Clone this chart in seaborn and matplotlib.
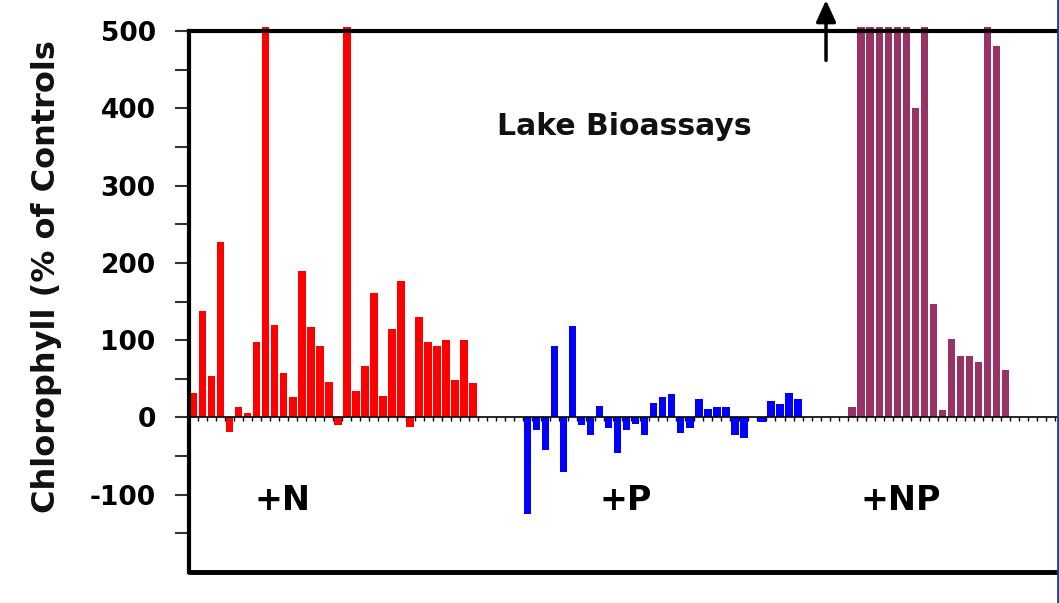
import numpy as np
import pandas as pd
import matplotlib
matplotlib.use("Agg")
import matplotlib.pyplot as plt
import seaborn as sns
from matplotlib.lines import Line2D
from matplotlib.ticker import FixedLocator

# ---------------- data ----------------
groups = ["+N", "+P", "+NP"]
n_values = [32, 138, 53, 227, -19, 14, 6, 97, 505, 119, 58, 27, 189, 117, 92, 46,
            -10, 505, 34, 66, 161, 28, 114, 176, -13, 130, 97, 93, 100, 48, 100, 44]
p_values = [-125, -16, -42, 92, -70, 118, -10, -23, 15, -14, -46, -16, -9, -23, 19, 26,
            30, -20, -14, 24, 11, 13, 13, -23, -26, None, -6, 21, 17, 32, 24]
np_values = [13, 505, 505, 505, 505, 505, 505, 401, 505, 147, 9, 101, 80, 80, 72, 505, 481, 61]
y_ticks = [-100, 0, 100, 200, 300, 400, 500]
title_text = "Lake Bioassays"
y_label = "Chlorophyll (% of Controls"

# ---------------- layout / style ----------------
group_start = {"+N": 0, "+P": 37, "+NP": 73}
colors = {"+N": "#FF0000", "+P": "#0000FF", "+NP": "#993366"}
label_x = {"+N": 9.9, "+P": 47.9, "+NP": 78.4}

rows = []
for g, vals in zip(groups, [n_values, p_values, np_values]):
    for k, v in enumerate(vals):
        if v is None:
            continue
        rows.append({"sample": group_start[g] + k, "value": v, "group": g})
df = pd.DataFrame(rows)

sns.set_theme(style="white")
plt.rcParams["font.family"] = ["DejaVu Sans"]
plt.rcParams["axes.unicode_minus"] = False

W, H = 1059, 603
fig = plt.figure(figsize=(W / 100, H / 100), dpi=100)
ax = fig.add_axes([189 / W, 1 - 572 / H, (1057 - 189) / W, (572 - 31) / H])

sns.barplot(data=df, x="sample", y="value", hue="group", palette=colors,
            native_scale=True, dodge=False, width=0.83, errorbar=None,
            legend=False, ax=ax, saturation=1, linewidth=0)
for p in ax.patches:
    p.set_clip_on(False)

ax.set_xlim(-0.11, 95.7)
ax.set_ylim(-200, 500)

# spines
ax.spines["left"].set_linewidth(3)
ax.spines["left"].set_color("black")
ax.spines["top"].set_linewidth(3)
ax.spines["top"].set_color("black")
ax.spines["right"].set_visible(False)
ax.spines["bottom"].set_position(("data", 0))
ax.spines["bottom"].set_linewidth(1.2)
ax.spines["bottom"].set_color("black")
ax.axhline(-200, color="black", lw=3.5, clip_on=False, zorder=3)

# y ticks
ax.set_yticks(y_ticks)
ax.yaxis.set_minor_locator(FixedLocator([-150, -50, 50, 150, 250, 350, 450]))
ax.tick_params(axis="y", which="both", direction="out", length=10, width=1.5,
               color="#333333", pad=14, labelsize=19, labelcolor="black", left=True)
for lab in ax.get_yticklabels():
    lab.set_fontweight("bold")

# x ticks on zero line
ax.set_xticks(np.arange(-0.5, 96, 1))
ax.set_xticklabels([])
ax.tick_params(axis="x", which="major", direction="out", length=3, width=1,
               color="black", bottom=True)
ax.set_xlabel("")

ax.set_ylabel(y_label, fontsize=23, fontweight="bold", color="#111111")
ax.yaxis.set_label_coords(-0.146, 0.546)

ax.text(47.7, 377, title_text, ha="center", va="center", fontsize=21.5,
        fontweight="bold", color="#111111")
for g in groups:
    ax.text(label_x[g], -107, g, ha="center", va="center", fontsize=24,
            fontweight="bold", color="black")

ax.annotate("", xy=(70.1, 540), xytext=(70.1, 462),
            arrowprops=dict(arrowstyle="-|>,head_length=1.1,head_width=0.5",
                            color="black", lw=2.5, shrinkA=0, shrinkB=0),
            annotation_clip=False)

fig.add_artist(Line2D([1057.5 / W, 1057.5 / W], [0, 1], transform=fig.transFigure,
                      color="#1f3f9f", lw=2))

fig.savefig("out.png", dpi=100)
